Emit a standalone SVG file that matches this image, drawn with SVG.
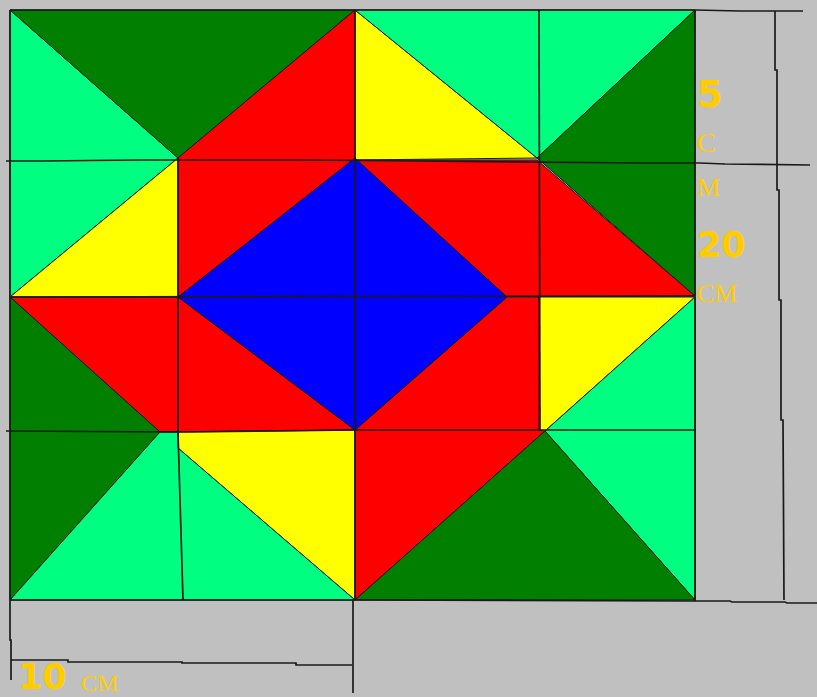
<svg xmlns="http://www.w3.org/2000/svg" width="817" height="697" viewBox="0 0 817 697">
<style>
.lg{fill:#00FF80}.dg{fill:#007F00}.rd{fill:#FF0000}.ye{fill:#FFFF00}.bl{fill:#0000FF}
polygon{stroke:#1a1a1a;stroke-width:1;stroke-linejoin:round}
.ln{stroke:#1a1a1a;stroke-width:1.7;fill:none}
.big{font-family:"DejaVu Sans",sans-serif;font-weight:bold;fill:#FFCC00}
.sm{font-family:"Liberation Serif",serif;fill:#FFCC00}
</style>
<rect width="817" height="697" fill="#C0C0C0"/>
<g id="quadrant-top-left">
<polygon class="lg" points="10,10 178,158 10,297"/>
<polygon class="dg" points="10,10 355,10 178,158"/>
<polygon class="rd" points="355,10 178,158 178,297 355,160"/>
<polygon class="ye" points="178,158 178,297 10,297"/>
</g>
<g id="quadrant-top-right">
<polygon class="ye" points="355,10 537,158 355,160"/>
<polygon class="lg" points="355,10 695,10 537,158"/>
<polygon class="dg" points="695,10 537,158 695,296"/>
<polygon class="rd" points="355,160 537,160 695,296 507,297"/>
</g>
<g id="quadrant-bottom-left">
<polygon class="rd" points="10,297 178,297 355,430 160,432"/>
<polygon class="dg" points="10,297 160,432 10,600"/>
<polygon class="ye" points="178,432 355,430 355,600 178,448"/>
<polygon class="lg" points="10,600 160,432 178,432 178,448 355,600"/>
</g>
<g id="quadrant-bottom-right">
<polygon class="rd" points="507,297 539,297 545,431 355,600 355,430"/>
<polygon class="ye" points="539,297 695,297 545,431 539,430"/>
<polygon class="lg" points="695,297 695,600 545,431"/>
<polygon class="dg" points="545,431 695,600 355,600"/>
</g>
<g id="center-diamond">
<polygon class="bl" points="355,158 507,297 355,430 178,297"/>
</g>
<g id="connectors">
<polyline class="ln" points="10,10 695,10 740,11 803,11"/>
<polyline class="ln" points="6,161 40,161 140,160 300,160 420,161 640,163 700,163 725,164 810,165"/>
<line class="ln" x1="10" y1="297" x2="695" y2="296"/>
<polyline class="ln" points="6,431 178,432 355,430 695,430"/>
<polyline class="ln" points="10,600 355,600 695,601 730,601 732,602 785,602 787,603 817,603"/>
<line class="ln" x1="10" y1="10" x2="10" y2="600"/>
<polyline class="ln" points="178,158 178,432 183,600"/>
<line class="ln" x1="355" y1="10" x2="355" y2="600"/>
<line class="ln" x1="539" y1="10" x2="540" y2="430"/>
<line class="ln" x1="695" y1="10" x2="695" y2="601"/>
<polyline class="ln" points="775,11 775,70 777,70 777,190 779,190 779,300 781,300 781,420 783,420 784,600"/>
<polyline class="ln" points="10,600 10,640 11,640 11,680"/>
<polyline class="ln" points="11,660 68,660 68,662 182,662 182,663 296,663 296,665 352,665"/>
<line class="ln" x1="353" y1="600" x2="353" y2="693"/>
</g>
<g id="labels">
<text class="big" x="697" y="107" font-size="37">5</text>
<text class="sm" x="697" y="152" font-size="28">C</text>
<text class="sm" x="697" y="196" font-size="26">M</text>
<text class="big" x="697" y="257" font-size="35">20</text>
<text class="sm" x="697" y="302" font-size="26">CM</text>
<text class="big" x="18" y="689" font-size="35">10</text>
<text class="sm" x="81" y="691" font-size="24">CM</text>
</g>
</svg>
